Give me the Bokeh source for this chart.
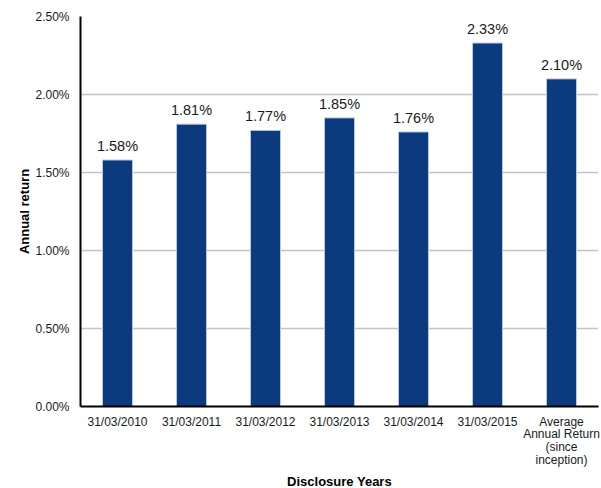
from bokeh.plotting import figure
from bokeh.models import ColumnDataSource, FixedTicker, PrintfTickFormatter, FactorRange
from bokeh.embed import file_html
from bokeh.resources import INLINE
from bokeh.core.properties import value

categories = ["31/03/2010", "31/03/2011", "31/03/2012", "31/03/2013", "31/03/2014",
              "31/03/2015", "Average\nAnnual Return\n(since\ninception)"]
returns = [1.58, 1.81, 1.77, 1.85, 1.76, 2.33, 2.10]
labels = ["%.2f%%" % v for v in returns]
y_ticks = [0.0, 0.5, 1.0, 1.5, 2.0, 2.5]

FONT = "Liberation Sans"

src = ColumnDataSource(dict(cat=categories, val=returns, lab=labels))

p = figure(x_range=FactorRange(*categories), y_range=(0, 2.5),
           frame_width=518, frame_height=390, output_backend="svg", toolbar_location=None,
           min_border_left=80, min_border_right=2, min_border_top=16, min_border_bottom=0)
p.outline_line_color = None

p.vbar(x="cat", top="val", width=0.405, source=src,
       fill_color="#0B3A7E", line_color="#B8C8E0", line_width=1)
p.text(x="cat", y="val", text="lab", source=src, y_offset=-6,
       text_align="center", text_baseline="bottom",
       text_font=value(FONT), text_font_size="14.5px", text_color="#1a1a1a")

p.yaxis.ticker = FixedTicker(ticks=y_ticks)
p.yaxis.formatter = PrintfTickFormatter(format="%.2f%%")
p.ygrid.grid_line_color = "#888888"
p.ygrid.grid_line_dash = "1 1"
p.ygrid.grid_line_width = 1.5
p.xgrid.grid_line_color = None

for ax in (p.xaxis, p.yaxis):
    ax.axis_line_color = "black"
    ax.axis_line_width = 2
    ax.major_tick_line_color = None
    ax.minor_tick_line_color = None
    ax.major_label_text_font = FONT
    ax.major_label_text_color = "#1a1a1a"
    ax.axis_label_text_font = FONT
    ax.axis_label_text_font_size = "13px"
    ax.axis_label_text_font_style = "bold"
    ax.axis_label_text_color = "black"

p.yaxis.major_label_text_font_size = "12px"
p.xaxis.major_label_text_font_size = "12px"
p.xaxis.major_label_text_line_height = 0.92
p.yaxis.axis_label = "Annual return"
p.yaxis.major_label_standoff = 5
p.yaxis.axis_label_standoff = 0
p.xaxis.axis_label = "Disclosure Years"
p.xaxis.major_label_standoff = 2
p.xaxis.axis_label_standoff = 4

open("out.html", "w").write(file_html(p, INLINE))
